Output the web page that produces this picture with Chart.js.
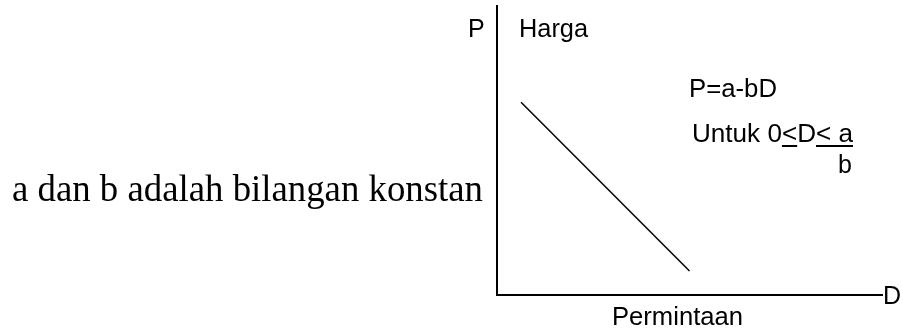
<!DOCTYPE html>
<html>
<head>
    <title>Kurva Permintaan</title>
    <script src="https://cdn.jsdelivr.net/npm/chart.js"></script>
    <style>
        body { margin: 0; background: #fff; }
        #demand-chart { display: block; }
    </style>
</head>
<body>
    <canvas id="demand-chart" width="903" height="331"></canvas>

    <script>
        // demand curve: D on the x axis, P on the y axis
        const demandD = [1, 8];
        const priceP = [8, 1];
        const xRange = [0, 16];
        const yRange = [0, 12];

        // texts
        const yLetter = 'P';
        const yTitle = 'Harga';
        const xLetter = 'D';
        const xTitle = 'Permintaan';
        const formula = 'P=a-bD';
        const rangeText = ['Untuk 0', '<', 'D', '< a'];   // 2nd and 4th underlined
        const rangeDenominator = 'b';
        const note = 'a dan b adalah bilangan konstan';

        const sans = '"Liberation Sans", Arial, sans-serif';
        const serif = '"Liberation Serif", "Times New Roman", serif';

        // draw text stretched/squeezed to a given width
        function fitText(ctx, text, x, y, font, width) {
            ctx.font = font;
            const w = ctx.measureText(text).width;
            ctx.save();
            ctx.translate(x, y);
            ctx.scale(width ? width / w : 1, 1);
            ctx.fillText(text, 0, 0);
            ctx.restore();
        }

        const labelsPlugin = {
            id: 'labels',
            afterDraw(chart) {
                const ctx = chart.ctx;
                ctx.save();
                ctx.fillStyle = '#000';
                ctx.textBaseline = 'alphabetic';
                ctx.textAlign = 'left';

                const f = '25px ' + sans;
                fitText(ctx, yLetter, 468, 37, f);
                fitText(ctx, yTitle, 519, 37, f, 69);
                fitText(ctx, xLetter, 883, 304, f);
                fitText(ctx, xTitle, 612, 325, f, 131);
                fitText(ctx, formula, 689, 97, f, 88);

                // "Untuk 0<D< a" with underlined parts
                ctx.font = f;
                let x = 692;
                const base = 142;
                const total = rangeText.reduce((s, t) => s + ctx.measureText(t).width, 0);
                const k = (853 - 692) / total;
                rangeText.forEach((t, i) => {
                    const w = ctx.measureText(t).width * k;
                    ctx.save();
                    ctx.translate(x, base);
                    ctx.scale(k, 1);
                    ctx.fillText(t, 0, 0);
                    ctx.restore();
                    if (i % 2 === 1) {
                        ctx.fillRect(x, base + 3, w, 2);
                    }
                    x += w;
                });
                fitText(ctx, rangeDenominator, 838, 173, f);

                fitText(ctx, note, 12, 201, '37px ' + serif, 471);
                ctx.restore();
            }
        };

        new Chart(document.getElementById('demand-chart'), {
            type: 'scatter',
            data: {
                datasets: [{
                    data: demandD.map((d, i) => ({ x: d, y: priceP[i] })),
                    showLine: true,
                    borderColor: '#000',
                    borderWidth: 1.5,
                    pointRadius: 0
                }]
            },
            options: {
                responsive: false,
                animation: false,
                events: [],
                layout: { padding: { left: 497, top: 6, right: 21, bottom: 36 } },
                plugins: { legend: { display: false }, tooltip: { enabled: false } },
                scales: {
                    x: {
                        min: xRange[0], max: xRange[1],
                        ticks: { display: false },
                        grid: { display: false, drawTicks: false },
                        border: { display: true, color: '#000', width: 2 }
                    },
                    y: {
                        min: yRange[0], max: yRange[1],
                        ticks: { display: false },
                        grid: { display: false, drawTicks: false },
                        border: { display: true, color: '#000', width: 2 }
                    }
                }
            },
            plugins: [labelsPlugin]
        });
    </script>
</body>
</html>
